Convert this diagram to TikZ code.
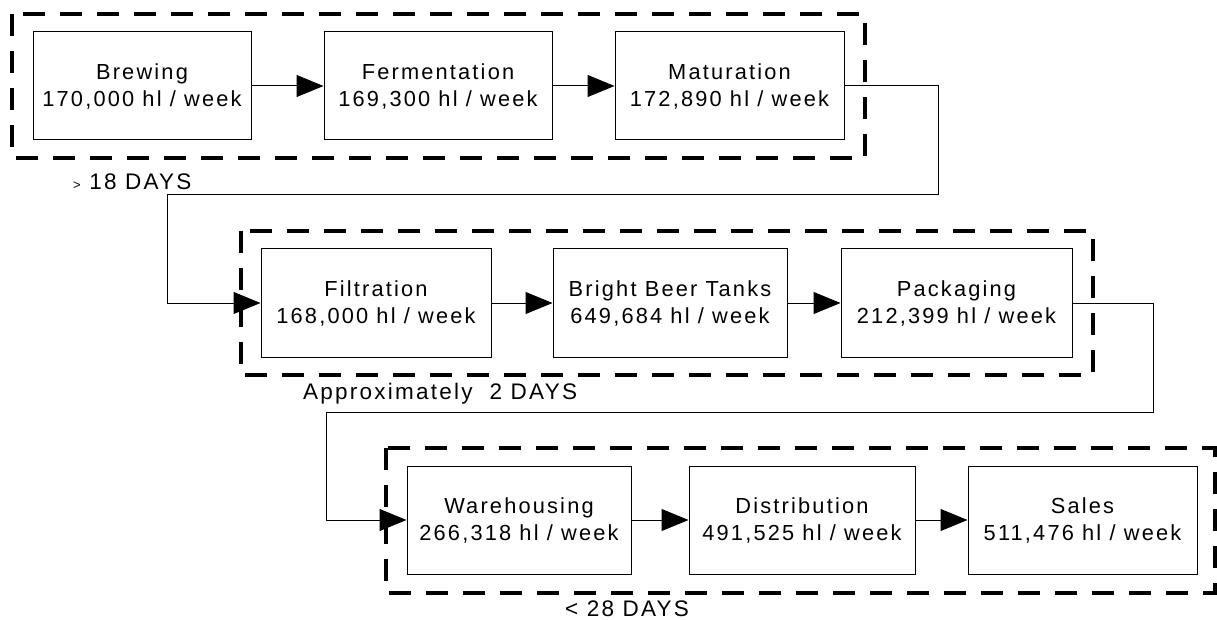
\documentclass[tikz,border=0pt]{standalone}
\usepackage{fontspec}
\setmainfont{Liberation Sans}[LetterSpace=10]
\usetikzlibrary{arrows.meta}
\begin{document}
\begin{tikzpicture}[x=1pt,y=-1pt,
  stage/.style={draw=black,line width=1pt,minimum height=108pt,align=center,
     inner sep=0pt,font=\fontsize{21.8}{27}\selectfont},
  group/.style={draw=black,line width=4pt,dash pattern=on 22pt off 15pt},
  flow/.style={draw=black,line width=1pt,-{Triangle[length=27pt,width=22pt]}},
  lbl/.style={anchor=base west,inner sep=0pt,font=\fontsize{22.5}{27}\selectfont}]
\useasboundingbox (0,0) rectangle (1217,620);
% groups
\draw[group] (12,14) rectangle (865,158);
\draw[group] (241,231) rectangle (1093,375);
\draw[group] (386,448) rectangle (1215,593);
% row 1
\node[stage,minimum width=218pt] (brew) at (142,86) {Brewing\\170,000 hl / week};
\node[stage,minimum width=228pt] (ferm) at (438,86) {Fermentation\\169,300 hl / week};
\node[stage,minimum width=229pt] (mat) at (729.5,86) {Maturation\\172,890 hl / week};
% row 2
\node[stage,minimum width=230pt] (fil) at (376,303) {Filtration\\168,000 hl / week};
\node[stage,minimum width=234pt] (bbt) at (670,303) {Bright Beer Tanks\\649,684 hl / week};
\node[stage,minimum width=231pt] (pack) at (956.5,303) {Packaging\\212,399 hl / week};
% row 3
\node[stage,minimum width=224pt] (ware) at (519,520) {Warehousing\\266,318 hl / week};
\node[stage,minimum width=226pt] (dist) at (802,520) {Distribution\\491,525 hl / week};
\node[stage,minimum width=229pt] (sales) at (1082.5,520) {Sales\\511,476 hl / week};
% bend points
\coordinate (a1) at (938,195);
\coordinate (a2) at (167,195);
\coordinate (b1) at (1153,412);
\coordinate (b2) at (326,412);
% connectors
\draw[flow] (brew) -- (ferm);
\draw[flow] (ferm) -- (mat);
\draw[flow] (mat.east) -- (mat.east -| a1) -- (a1) -- (a2) -- (a2 |- fil.west) -- (fil.west);
\draw[flow] (fil) -- (bbt);
\draw[flow] (bbt) -- (pack);
\draw[flow] (pack.east) -- (pack.east -| b1) -- (b1) -- (b2) -- (b2 |- ware.west) -- (ware.west);
\draw[flow] (ware) -- (dist);
\draw[flow] (dist) -- (sales);
% labels
\node[lbl] (l1) at (73,190) {{\fontsize{13}{13}\selectfont >} 18 DAYS};
\node[lbl] (l2) at (303,399) {Approximately\ \ 2 DAYS};
\node[lbl] (l3) at (565,616) {< 28 DAYS};
\end{tikzpicture}
\end{document}
